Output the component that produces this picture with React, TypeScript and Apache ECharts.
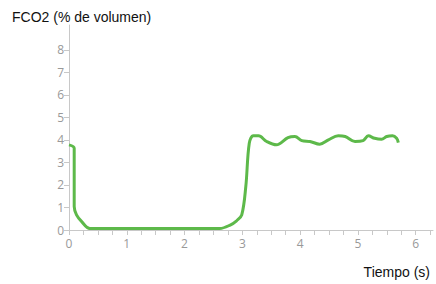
import React, { useEffect, useRef } from "react";
import * as echarts from "echarts";

const timeSeconds = [0, 0.09, 0.09, 0.13, 0.22, 0.36, 1.0, 2.0, 2.61, 2.79, 2.9, 2.99, 3.06, 3.12, 3.19, 3.28, 3.42, 3.59, 3.79, 3.91, 4.03, 4.17, 4.34, 4.49, 4.66, 4.78, 4.95, 5.09, 5.18, 5.29, 5.41, 5.5, 5.6, 5.67, 5.7];
const fco2Values = [3.78, 3.63, 1.04, 0.67, 0.37, 0.07, 0.07, 0.07, 0.07, 0.22, 0.41, 0.67, 1.93, 3.85, 4.18, 4.18, 3.93, 3.78, 4.1, 4.15, 3.97, 3.93, 3.81, 4.0, 4.18, 4.15, 3.93, 3.97, 4.18, 4.07, 4.03, 4.15, 4.18, 4.07, 3.88];
const xLabels = [0, 1, 2, 3, 4, 5, 6];
const xTicks = Array.from({ length: 26 }, (_, i) => i * 0.25);
const yLabels = [0, 1, 2, 3, 4, 5, 6, 7, 8];

export default function App() {
  const ref = useRef<HTMLDivElement>(null);
  useEffect(() => {
    if (!ref.current) return;
    const chart = echarts.init(ref.current, undefined, { renderer: "svg" });
    const data = timeSeconds.map((t, i) => [t, fco2Values[i]]);
    chart.setOption({
      animation: false,
      title: {
        text: "FCO2 (% de volumen)",
        left: 7,
        top: 5,
        textStyle: { fontSize: 14, fontWeight: "normal", color: "#111", fontFamily: "Liberation Sans" },
      },
      graphic: [
        {
          type: "text",
          right: 6,
          top: 265,
          style: { text: "Tiempo (s)", fontSize: 14, fill: "#111", fontFamily: "Liberation Sans" },
        },
      ],
      grid: { left: 69, right: 3, top: 25, bottom: 54 },
      xAxis: {
        type: "value",
        min: 0,
        max: 6.3,
        axisLine: { lineStyle: { color: "#c8c8c8" } },
        axisTick: { show: true, customValues: xTicks, length: 5, lineStyle: { color: "#c8c8c8" } },
        axisLabel: { customValues: xLabels, color: "#999", fontSize: 12, fontFamily: "Open Sans", margin: 7 },
        splitLine: { show: false },
      },
      yAxis: {
        type: "value",
        min: 0,
        max: 9.1,
        axisLine: { show: true, lineStyle: { color: "#c8c8c8" } },
        axisTick: { show: true, customValues: yLabels, length: 5, lineStyle: { color: "#c8c8c8" } },
        axisLabel: { customValues: yLabels, color: "#999", fontSize: 12, fontFamily: "Open Sans", margin: 5 },
        splitLine: { show: false },
      },
      series: [
        {
          type: "line",
          data,
          smooth: 0.35,
          showSymbol: false,
          lineStyle: { color: "#5db94a", width: 3 },
        },
      ],
    });
    return () => chart.dispose();
  }, []);
  return <div ref={ref} style={{ position: "absolute", left: 0, top: 0, width: 436, height: 284 }} />;
}
